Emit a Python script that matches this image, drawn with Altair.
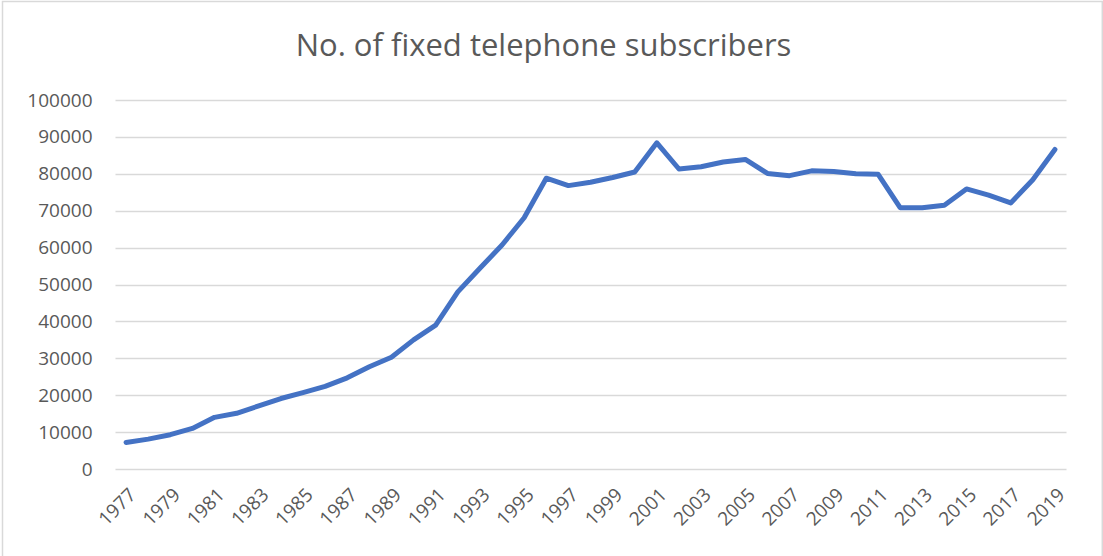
import altair as alt
import pandas as pd

years = [str(y) for y in range(1977, 2020)]
subscribers = [
    7200, 8100, 9300, 11000, 14000, 15100, 17100, 19100, 20700, 22400,
    24700, 27700, 30300, 35000, 39000, 48000, 54400, 60700, 68100, 78800,
    76800, 77700, 79000, 80500, 88400, 81300, 81900, 83200, 83900, 80100,
    79500, 80800, 80600, 80000, 79900, 70800, 70800, 71500, 75900, 74200,
    72100, 78400, 86600,
]
label_years = [str(y) for y in range(1977, 2020, 2)]
title_text = "No. of fixed telephone subscribers"

df = pd.DataFrame({"year": years, "value": subscribers})
title_df = pd.DataFrame({"t": [title_text]})

W, H = 951, 369
PAD_L, PAD_T = 115, 100

line = alt.Chart(df).mark_line(
    color="#4472C4", strokeWidth=5, strokeCap="round", strokeJoin="round"
).encode(
    x=alt.X(
        "year:O",
        sort=years,
        scale=alt.Scale(type="point", padding=0.5),
        axis=alt.Axis(
            title=None,
            values=label_years,
            labelAngle=-45,
            labelAlign="right",
            labelBaseline="top",
            labelPadding=16,
            labelFont="Open Sans",
            labelFontSize=19,
            labelColor="#595959",
            ticks=False,
            domain=False,
            grid=False,
            labelOverlap=False,
        ),
    ),
    y=alt.Y(
        "value:Q",
        scale=alt.Scale(domain=[0, 100000], nice=False),
        axis=alt.Axis(
            title=None,
            values=list(range(0, 100001, 10000)),
            format="d",
            labelFont="Open Sans",
            labelFontSize=19,
            labelColor="#595959",
            labelPadding=23,
            ticks=False,
            domain=False,
            gridColor="#d9d9d9",
            gridWidth=1.3,
        ),
    ),
)

border = alt.Chart(title_df).mark_rect(
    fill=None, stroke="#d9d9d9", strokeWidth=1.5, clip=False
).encode(
    x=alt.value(2.5 - PAD_L),
    x2=alt.value(1102.3 - PAD_L),
    y=alt.value(1.5 - PAD_T),
    y2=alt.value(560 - PAD_T),
)

title = alt.Chart(title_df).mark_text(
    font="Open Sans",
    fontSize=31,
    color="#595959",
    align="center",
    baseline="alphabetic",
    clip=False,
).encode(
    text="t:N",
    x=alt.value(543.5 - PAD_L),
    y=alt.value(56 - PAD_T),
)

chart = alt.layer(border, line, title).properties(
    width=W,
    height=H,
    padding={"left": PAD_L, "top": PAD_T, "right": 1103 - PAD_L - W, "bottom": 556 - PAD_T - H},
    autosize=alt.AutoSizeParams(type="none"),
    background="white",
).configure_view(stroke=None)

chart.save("out.html", embed_options={"renderer": "svg", "actions": False})
